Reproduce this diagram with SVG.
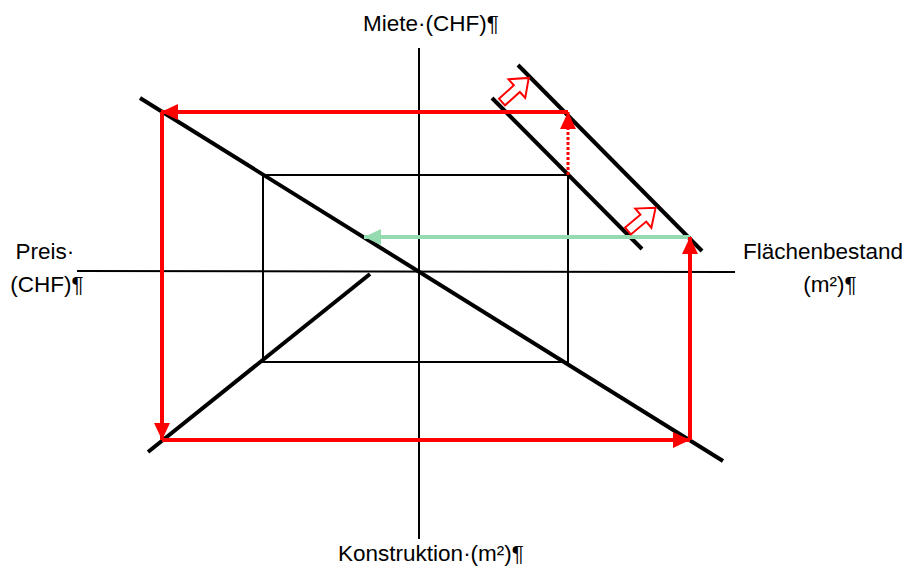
<svg xmlns="http://www.w3.org/2000/svg" width="909" height="569" viewBox="0 0 909 569">
<style>
  .lbl { font-family: "Liberation Sans", Arial, sans-serif; font-size: 22.5px; fill: #000; }
  .thin { stroke: #000; stroke-width: 2; fill: none; }
  .thick { stroke: #000; stroke-width: 4; fill: none; }
  .red { stroke: #ff0000; stroke-width: 4; fill: none; }
  .reddot { stroke: #ff0000; stroke-width: 3; stroke-dasharray: 3 2; fill: none; }
  .green { stroke: #94dcb0; stroke-width: 4; fill: none; }
  .block { stroke: #ff0000; stroke-width: 2; fill: #fff; stroke-linejoin: miter; }
</style>
<defs>
  <marker id="ar" markerUnits="userSpaceOnUse" markerWidth="18" markerHeight="16" refX="17" refY="8" orient="auto">
    <path d="M0,0 L17,8 L0,16 Z" fill="#ff0000"/>
  </marker>
  <marker id="ag" markerUnits="userSpaceOnUse" markerWidth="18" markerHeight="16" refX="17" refY="8" orient="auto">
    <path d="M0,0 L17,8 L0,16 Z" fill="#94dcb0"/>
  </marker>
  <path id="blk" d="M0,-4.5 L20,-4.5 L20,-12.5 L36,0 L20,12.5 L20,4.5 L0,4.5 Z"/>
</defs>
<rect width="909" height="569" fill="#fff"/>

<g id="axes">
  <line class="thin" x1="419" y1="48" x2="419" y2="539"/>
  <line class="thin" x1="77" y1="271" x2="735" y2="272"/>
</g>

<g id="rectangle">
  <rect class="thin" x="263" y="175" width="305" height="187"/>
</g>

<g id="lines">
  <line class="thick" x1="140" y1="98" x2="723" y2="461"/>
  <line class="thick" x1="148" y1="452" x2="370" y2="274"/>
  <line class="thick" x1="492" y1="98" x2="642" y2="249"/>
  <line class="thick" x1="518" y1="65" x2="702" y2="251"/>
</g>

<g id="connectors">
  <line class="green" x1="690" y1="237" x2="364" y2="237" marker-end="url(#ag)"/>
  <line class="red" x1="568" y1="112" x2="161" y2="112" marker-end="url(#ar)"/>
  <line class="red" x1="162" y1="112" x2="162" y2="440" marker-end="url(#ar)"/>
  <line class="red" x1="162" y1="440" x2="690" y2="440" marker-end="url(#ar)"/>
  <line class="red" x1="690" y1="440" x2="690" y2="237" marker-end="url(#ar)"/>
  <line class="reddot" x1="568" y1="175" x2="568" y2="112" marker-end="url(#ar)"/>
</g>

<g id="shift-arrows">
  <use href="#blk" class="block" transform="translate(502,102) rotate(-42)"/>
  <use href="#blk" class="block" transform="translate(628,231) rotate(-40)"/>
</g>

<g id="labels">
  <text class="lbl" x="431" y="31" text-anchor="middle">Miete·(CHF)¶</text>
  <text class="lbl" x="45" y="259" text-anchor="middle">Preis·</text>
  <text class="lbl" x="47" y="292" text-anchor="middle">(CHF)¶</text>
  <text class="lbl" x="823" y="259" text-anchor="middle">Flächenbestand</text>
  <text class="lbl" x="830" y="292" text-anchor="middle">(m²)¶</text>
  <text class="lbl" x="431" y="561" text-anchor="middle">Konstruktion·(m²)¶</text>
</g>
</svg>
